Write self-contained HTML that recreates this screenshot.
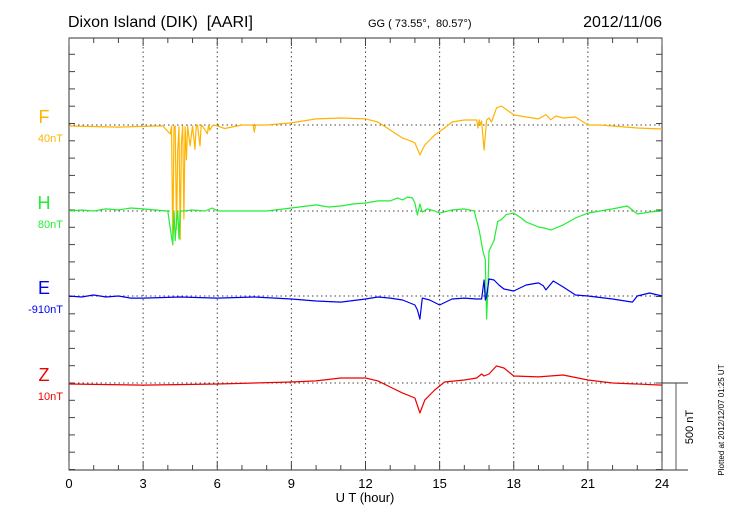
<!DOCTYPE html>
<html><head><meta charset="utf-8"><style>
body{margin:0;background:#fff;}
svg{display:block;font-family:"Liberation Sans",sans-serif;}
</style></head><body>
<svg id="chart" width="730" height="520" viewBox="0 0 730 520">
<text x="68" y="27" font-size="16">Dixon Island (DIK)&#160; [AARI]</text>
<text x="368" y="27" font-size="11">GG ( 73.55°,&#160; 80.57°)</text>
<text x="662" y="27" font-size="16" text-anchor="end">2012/11/06</text>
<g id="grid"></g>
<rect x="69" y="38" width="593" height="432" fill="none" stroke="#333" stroke-width="1"/>
<g id="ticks"></g>
<g id="series"></g>
<g id="labels"></g>
<text x="365" y="502" font-size="13" text-anchor="middle">U T (hour)</text>
<line x1="662" y1="383" x2="688" y2="383" stroke="#333"/>
<line x1="662" y1="470" x2="688" y2="470" stroke="#333"/>
<line x1="676" y1="383" x2="676" y2="470" stroke="#555"/>
<text transform="translate(693,427) rotate(-90)" font-size="11" text-anchor="middle">500 nT</text>
<text transform="translate(724,420) rotate(-90)" font-size="8" text-anchor="middle">Plotted at 2012/12/07 01:25 UT</text>
</svg>
<script>
const xTicks=[0,3,6,9,12,15,18,21,24];
const components=["F","H","E","Z"];
const baseLabels=["40nT","80nT","-910nT","10nT"];
const colors=["#ffb400","#22ee33","#0000ee","#ee0000"];
const baselines=[125,211,296,383];
const fHours=[0,2,3.5,3.8,4.1,4.15,4.2,4.25,4.3,4.35,4.4,4.45,4.5,4.55,4.6,4.65,4.7,4.75,4.8,4.9,5.0,5.1,5.15,5.2,5.3,5.35,5.4,5.6,5.65,5.7,5.8,5.85,6.0,6.3,7.0,7.45,7.5,7.55,8,9,10,11,12,12.5,13,13.5,13.8,14,14.2,14.4,14.8,15.2,15.5,16,16.4,16.5,16.55,16.6,16.65,16.7,16.8,16.9,17.0,17.1,17.3,17.5,18,18.5,19,19.3,19.5,19.7,20,20.5,21,21.5,22,23,24];
const fVals=[-6,-12,-6,-6,-52,-6,-690,-10,-6,-600,-150,-10,-660,-100,-6,-540,-10,-200,-6,-120,-6,-140,-6,0,-120,0,-6,-50,0,-30,-6,0,-6,-20,0,0,-40,0,0,12,35,40,35,17,-29,-75,-90,-103,-172,-115,-58,-17,17,29,29,29,-17,29,0,23,-144,29,40,17,98,109,58,46,35,60,30,52,40,46,0,0,-6,-17,-23];
const hHours=[0,0.5,1,1.5,2,2.5,3,3.5,4,4.15,4.2,4.25,4.3,4.35,4.4,4.45,4.5,4.6,5,5.5,5.8,6,7,8,9,10,10.5,11,11.5,12,12.5,13,13.3,13.5,13.7,13.9,14.0,14.1,14.2,14.3,14.5,14.8,15,15.5,16,16.4,16.6,16.75,16.85,16.9,16.95,17.0,17.1,17.2,17.35,17.5,17.7,18,18.3,18.5,18.8,19,19.3,19.5,20,20.5,21,21.5,22,22.6,23,23.5,24];
const hVals=[0,6,0,12,6,17,12,6,0,-150,-190,0,-170,-60,0,-160,0,0,6,0,17,0,0,0,17,35,23,29,40,46,58,58,75,63,80,75,46,-23,40,-6,12,0,-12,6,12,0,-110,-230,-280,-620,-460,-230,-200,-170,-60,-50,-20,-12,-40,-63,-80,-92,-100,-109,-80,-40,-12,0,12,29,-17,-6,0];
const eHours=[0,0.5,1,1.5,2,2.5,3,4.5,6,7.5,9,10,11,12,12.5,13,13.5,14,14.1,14.2,14.3,14.6,15,15.5,16,16.5,16.7,16.8,16.85,16.9,17,17.2,17.4,17.6,18,18.5,19,19.2,19.3,19.6,20,20.5,21,22,22.8,23,23.5,24];
const eVals=[0,-6,6,-6,0,-12,-12,-6,-12,-6,-17,-29,-35,-17,-6,-12,-23,-52,-80,-133,-12,-23,-52,-17,-12,-17,-17,92,-23,-6,98,92,63,40,29,63,75,58,35,86,52,6,0,-17,-35,0,17,0];
const zHours=[0,3,6,9,10,11,12,12.5,13,13.5,14,14.2,14.4,14.8,15.2,16,16.5,16.7,16.8,17,17.3,17.6,18,19,20,21,22,24];
const zVals=[-6,-12,-6,6,12,29,29,12,-23,-58,-86,-172,-98,-40,6,17,29,52,40,52,98,86,40,35,46,17,0,-12];
const hourSets=[fHours,hHours,eHours,zHours];
const valSets=[fVals,hVals,eVals,zVals];

const X0=69,X1=662,Y0=38,Y1=470,PXNT=87/500;
const xs=h=>X0+(X1-X0)*h/24;
const ys=(i,v)=>baselines[i]-v*PXNT;
const NS="http://www.w3.org/2000/svg";
function mk(t,a,parent){const e=document.createElementNS(NS,t);for(const k in a)e.setAttribute(k,a[k]);parent.appendChild(e);return e;}
const grid=document.getElementById("grid"),ticks=document.getElementById("ticks"),ser=document.getElementById("series"),lab=document.getElementById("labels");
xTicks.forEach((h,k)=>{
  if(k>0&&k<xTicks.length-1){
    const g=mk("line",{x1:xs(h),x2:xs(h),y1:Y0,y2:Y1,stroke:"#444","stroke-dasharray":"1.5,3"},grid);
    
    
  }
  const t=mk("text",{x:xs(h),y:488,"font-size":13,"text-anchor":"middle"},lab);
  t.textContent=h;
  
  
});
for(let h=0;h<=24;h++){
  const L=h%3===0?8:5;
  const a=mk("line",{x1:xs(h),x2:xs(h),y1:Y0,y2:Y0+L,stroke:"#444"},ticks);
  
  
  const b=mk("line",{x1:xs(h),x2:xs(h),y1:Y1,y2:Y1-L,stroke:"#444"},ticks);
  
  
}
for(let y=383-17.3*20;y<=Y1+0.5;y+=17.3){
  if(y<Y0)continue;
  const a=mk("line",{x1:X0,x2:X0+6,y1:y,y2:y,stroke:"#444"},ticks);
  
  
  const b=mk("line",{x1:X1,x2:X1-6,y1:y,y2:y,stroke:"#444"},ticks);
  
  
}
components.forEach((c,i)=>{
  const b=mk("line",{x1:X0,x2:X1,y1:baselines[i],y2:baselines[i],stroke:"#444","stroke-dasharray":"1.5,3"},grid);
  
  
  const pts=hourSets[i].map((h,k)=>xs(h).toFixed(1)+","+ys(i,valSets[i][k]).toFixed(1)).join(" ");
  const p=mk("polyline",{points:pts,fill:"none",stroke:colors[i],"stroke-width":1.2,"stroke-linejoin":"round"},ser);
  
  
  const t=mk("text",{x:44,y:baselines[i]-2,"font-size":18,"text-anchor":"middle",fill:colors[i]},lab);
  t.textContent=c;
  
  
  const s=mk("text",{x:63,y:baselines[i]+17,"font-size":11,"text-anchor":"end",fill:colors[i]},lab);
  s.textContent=baseLabels[i];
  
  
});
</script>
</body></html>
